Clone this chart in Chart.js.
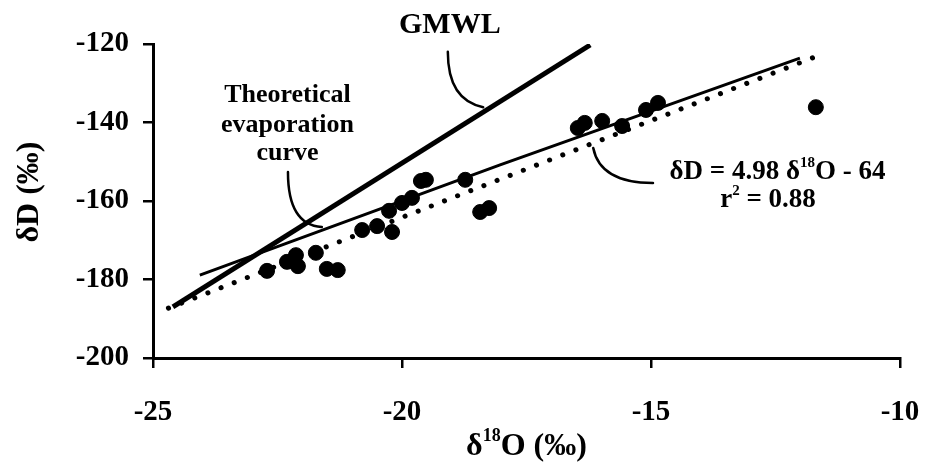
<!DOCTYPE html>
<html>
<head>
<meta charset="utf-8">
<script src="https://cdn.jsdelivr.net/npm/chart.js@4"></script>
<style>
  html, body { margin: 0; padding: 0; background: #fff; }
  #wrap { width: 928px; height: 466px; }
</style>
</head>
<body>
<div id="wrap"><canvas id="isoChart" width="928" height="466"></canvas></div>
<script>
// ===== Dados =====
const d18O = [-22.71, -22.31, -22.13, -22.09, -21.73, -21.51, -21.29, -20.80, -20.50, -20.20,
              -20.26, -20.00, -19.80, -19.62, -19.52, -18.73, -18.43, -18.25, -16.47, -16.33,
              -15.98, -15.58, -15.10, -14.86, -11.69];
const dD   = [-177.8, -175.5, -173.8, -176.6, -173.2, -177.3, -177.6, -167.4, -166.4, -167.9,
              -162.5, -160.5, -159.2, -154.9, -154.6, -154.6, -162.8, -161.8, -141.4, -140.1,
              -139.6, -140.9, -136.8, -135.0, -136.1];

// GMWL (linha grossa)
const gmwlX = [-24.60, -16.22];
const gmwlY = [-187.0, -120.25];
// curva teórica de evaporação (linha fina)
const evapX = [-24.06, -18.03, -12.01];
const evapY = [-178.9, -150.8, -123.6];
// regressão (pontilhada)
const regX = [-24.69, -11.69];
const regY = [-187.3, -123.2];

const xTicks = [-25, -20, -15, -10];
const yTicks = [-200, -180, -160, -140, -120];

const FONT = "'Liberation Serif', 'Times New Roman', serif";

function toPts(xs, ys) {
    return xs.map((x, i) => ({ x: x, y: ys[i] }));
}

// ===== Anotações (texto + setas curvas) =====
const annotPlugin = {
    id: 'annot',
    afterDatasetsDraw(chart) {
        const ctx = chart.ctx;
        const xs = chart.scales.x, ys = chart.scales.y;
        const px = v => xs.getPixelForValue(v);
        const py = v => ys.getPixelForValue(v);

        ctx.save();
        ctx.fillStyle = '#000';
        ctx.strokeStyle = '#000';
        ctx.textAlign = 'left';
        ctx.textBaseline = 'middle';

        // texto com sobrescrito
        function rich(parts, cx, cy, size) {
            let w = 0;
            parts.forEach(p => {
                ctx.font = 'bold ' + (p.sup ? Math.round(size * 0.55) : size) + 'px ' + FONT;
                p.w = ctx.measureText(p.t).width;
                w += p.w;
            });
            let x = cx - w / 2;
            parts.forEach(p => {
                ctx.font = 'bold ' + (p.sup ? Math.round(size * 0.55) : size) + 'px ' + FONT;
                ctx.fillText(p.t, x, p.sup ? cy - size * 0.32 : cy);
                x += p.w;
            });
        }

        rich([{ t: 'GMWL' }], px(-19.04), py(-115.2), 30);
        rich([{ t: 'Theoretical' }], px(-22.30), py(-133.0), 26);
        rich([{ t: 'evaporation' }], px(-22.30), py(-140.6), 26);
        rich([{ t: 'curve' }], px(-22.30), py(-147.8), 26);
        rich([{ t: 'δD = 4.98 δ' }, { t: '18', sup: true }, { t: 'O - 64' }], px(-12.46), py(-152.6), 27);
        rich([{ t: 'r' }, { t: '2', sup: true }, { t: ' = 0.88' }], px(-12.65), py(-159.7), 27);

        // setas
        ctx.lineWidth = 2.5;
        ctx.lineCap = 'round';
        function leader(a, c, b) {
            ctx.beginPath();
            ctx.moveTo(px(a[0]), py(a[1]));
            ctx.quadraticCurveTo(px(c[0]), py(c[1]), px(b[0]), py(b[1]));
            ctx.stroke();
        }
        leader([-19.08, -122.0], [-19.08, -134.3], [-18.37, -136.1]);
        leader([-22.29, -152.6], [-22.29, -166.1], [-21.61, -166.6]);
        leader([-16.16, -146.5], [-16.02, -155.4], [-14.96, -155.4]);

        // títulos dos eixos
        const area = chart.chartArea;
        rich([{ t: 'δ' }, { t: '18', sup: true }, { t: 'O (‰)' }], (area.left + area.right) / 2, 447, 32);
        ctx.translate(30, 192);
        ctx.rotate(-Math.PI / 2);
        rich([{ t: 'δD (‰)' }], 0, 0, 32);
        ctx.restore();
    }
};

// ===== Gráfico =====
const ctx = document.getElementById('isoChart').getContext('2d');
new Chart(ctx, {
    type: 'scatter',
    data: {
        datasets: [
            {
                label: 'amostras',
                data: toPts(d18O, dD),
                backgroundColor: '#000',
                borderColor: '#000',
                pointRadius: 7.5,
                pointHoverRadius: 7.5
            },
            {
                label: 'GMWL',
                type: 'line',
                data: toPts(gmwlX, gmwlY),
                borderColor: '#000',
                borderWidth: 5,
                pointRadius: 0,
                fill: false
            },
            {
                label: 'evaporação',
                type: 'line',
                data: toPts(evapX, evapY),
                borderColor: '#000',
                borderWidth: 3,
                pointRadius: 0,
                tension: 0,
                fill: false
            },
            {
                label: 'regressão',
                type: 'line',
                data: toPts(regX, regY),
                borderColor: '#000',
                borderWidth: 5,
                borderDash: [0.1, 14],
                borderCapStyle: 'round',
                pointRadius: 0,
                fill: false
            }
        ]
    },
    options: {
        responsive: false,
        animation: false,
        layout: { padding: { top: 44, right: 28, left: 0, bottom: 0 } },
        plugins: {
            legend: { display: false },
            tooltip: { enabled: false }
        },
        scales: {
            x: {
                type: 'linear',
                min: -25,
                max: -10,
                afterFit: s => { s.height = 108; s.paddingLeft = 0; s.paddingRight = 0; },
                afterBuildTicks: s => { s.ticks = xTicks.map(v => ({ value: v })); },
                border: { color: '#000', width: 3 },
                grid: { drawOnChartArea: false, color: '#000', lineWidth: 2.5, tickLength: 10 },
                ticks: { color: '#000', padding: 27, maxRotation: 0, font: { family: FONT, size: 29, weight: 'bold' } }
            },
            y: {
                type: 'linear',
                min: -200,
                max: -120,
                afterFit: s => { s.width = 153; s.paddingTop = 0; s.paddingBottom = 0; },
                afterBuildTicks: s => { s.ticks = yTicks.map(v => ({ value: v })); },
                border: { color: '#000', width: 3 },
                grid: { drawOnChartArea: false, color: '#000', lineWidth: 2.5, tickLength: 10 },
                ticks: { color: '#000', padding: 14, font: { family: FONT, size: 29, weight: 'bold' } }
            }
        }
    },
    plugins: [annotPlugin]
});
</script>
</body>
</html>
